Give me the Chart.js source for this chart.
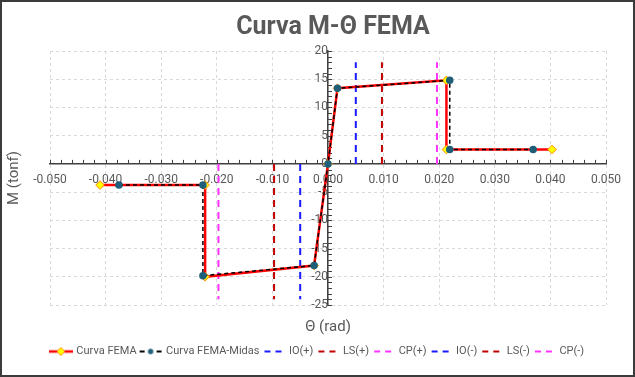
<!DOCTYPE html>
<html>
<head>
<meta charset="utf-8">
<script src="https://cdn.jsdelivr.net/npm/chart.js@4.4.1/dist/chart.umd.min.js"></script>
<style>
  html, body { margin: 0; padding: 0; background: #fff; }
  #wrap { position: relative; width: 635px; height: 377px; }
  #frame { position: absolute; left: 0; top: 0; width: 635px; height: 377px; box-sizing: border-box;
           border: 2px solid #3b3b3b; pointer-events: none; }
</style>
</head>
<body>
<div id="wrap"><canvas id="c" width="635" height="377"></canvas><div id="frame"></div></div>
<script>
// Curva M-Θ FEMA
const femaTheta = [-0.0410, -0.0221, -0.0221, -0.0025, 0.0000, 0.0017, 0.0213, 0.0213, 0.0403];
const femaM     = [-3.75, -3.75, -20.0, -18.0, 0.0, 13.4, 14.8, 2.55, 2.55];

const midasTheta = [-0.0376, -0.0225, -0.0225, -0.0025, 0.0000, 0.0017, 0.0219, 0.0219, 0.0369];
const midasM     = [-3.75, -3.75, -19.8, -18.0, 0.0, 13.4, 14.8, 2.55, 2.55];

// acceptance limits, each drawn as a vertical line from M = 0 to M = limitEnd
const limitNames = ["IO(+)", "LS(+)", "CP(+)", "IO(-)", "LS(-)", "CP(-)"];
const limitTheta = [0.0050, 0.0097, 0.0196, -0.0050, -0.0097, -0.0197];
const limitEnd   = [18, 18, 18, -24, -24, -24];
const limitColors = ["#1a1aff", "#c00000", "#ff33ff", "#1a1aff", "#c00000", "#ff33ff"];

const xMin = -0.05, xMax = 0.05, xStep = 0.01, xMinor = 0.002;
const yMin = -25, yMax = 20, yStep = 5, yMinor = 1;

const GREY = "#595959";
const AXIS = "#404040";
Chart.defaults.font.family = "Roboto, 'Liberation Sans', sans-serif";
Chart.defaults.color = GREY;

const pts = (xs, ys) => xs.map((x, i) => ({ x, y: ys[i] }));

// little legend samples (line + marker)
function sample(kind, color) {
  const c = document.createElement("canvas");
  c.width = 24; c.height = 12;
  const g = c.getContext("2d");
  g.lineCap = "butt";
  if (kind === "fema") {
    g.strokeStyle = "#ff0000"; g.lineWidth = 2.5;
    g.beginPath(); g.moveTo(0, 6); g.lineTo(24, 6); g.stroke();
    g.fillStyle = "#ffff00"; g.strokeStyle = "#ff8c00"; g.lineWidth = 1;
    g.beginPath(); g.moveTo(12, 2); g.lineTo(16, 6); g.lineTo(12, 10); g.lineTo(8, 6); g.closePath();
    g.fill(); g.stroke();
  } else if (kind === "midas") {
    g.strokeStyle = "#000"; g.lineWidth = 2;
    g.beginPath(); g.moveTo(1, 6); g.lineTo(6, 6); g.moveTo(18, 6); g.lineTo(23, 6); g.stroke();
    g.fillStyle = "#1f5f7a";
    g.beginPath(); g.arc(12, 6, 2.7, 0, Math.PI * 2); g.fill();
  } else {
    g.strokeStyle = color; g.lineWidth = 2;
    g.beginPath(); g.moveTo(3, 6); g.lineTo(9, 6); g.moveTo(14, 6); g.lineTo(20, 6); g.stroke();
  }
  return c;
}

const datasets = [
  {
    label: "Curva FEMA", data: pts(femaTheta, femaM), showLine: true,
    borderColor: "#ff0000", borderWidth: 2.5,
    pointStyle: "rectRot", pointRadius: 4.3, pointBackgroundColor: "#ffff00",
    pointBorderColor: "#ff8c00", pointBorderWidth: 1, order: 2, legendImg: sample("fema"),
  },
  {
    label: "Curva FEMA-Midas", data: pts(midasTheta, midasM), showLine: true,
    borderColor: "#000000", borderWidth: 1.5, borderDash: [4, 3],
    pointRadius: 3, pointBackgroundColor: "#1f5f7a", pointBorderColor: "#1f5f7a",
    order: 1, legendImg: sample("midas"),
  },
  ...limitNames.map((name, i) => ({
    label: name, data: [{ x: limitTheta[i], y: 0 }, { x: limitTheta[i], y: limitEnd[i] }],
    showLine: true, borderColor: limitColors[i], borderWidth: 2, borderDash: [7, 5],
    pointRadius: 0, order: 3, legendImg: sample("dash", limitColors[i]),
  })),
];

// minor tick marks + chart title
const decor = {
  id: "decor",
  beforeDatasetsDraw(chart) {
    const { ctx, scales: { x, y } } = chart;
    const x0 = x.getPixelForValue(0), y0 = y.getPixelForValue(0);
    ctx.save();
    ctx.strokeStyle = AXIS; ctx.lineWidth = 1;
    ctx.beginPath();
    for (let i = Math.round(xMin / xMinor); i <= Math.round(xMax / xMinor); i++) {
      const px = Math.round(x.getPixelForValue(i * xMinor)) + 0.5;
      ctx.moveTo(px, y0); ctx.lineTo(px, y0 - 4);
    }
    for (let v = yMin; v <= yMax; v += yMinor) {
      const py = Math.round(y.getPixelForValue(v)) + 0.5;
      ctx.moveTo(x0, py); ctx.lineTo(x0 + 4, py);
    }
    ctx.stroke();
    ctx.restore();
  },
  afterDraw(chart) {
    const { ctx } = chart;
    ctx.save();
    ctx.font = "bold 25px Roboto, 'Liberation Sans', sans-serif";
    ctx.fillStyle = GREY;
    ctx.textAlign = "center";
    ctx.textBaseline = "middle";
    ctx.fillText("Curva M-Θ FEMA", 333, 28);
    ctx.restore();
  },
};

const hidden = { ticks: { display: false }, grid: { display: false, drawTicks: false }, border: { display: false } };

new Chart(document.getElementById("c"), {
  type: "scatter",
  data: { datasets },
  options: {
    responsive: false,
    animation: false,
    devicePixelRatio: 1,
    layout: { padding: { top: 51, right: 0, bottom: 10, left: 0 } },
    plugins: {
      tooltip: { enabled: false },
      legend: {
        position: "bottom",
        labels: {
          usePointStyle: true, pointStyleWidth: 20, boxHeight: 11, padding: 4,
          font: { size: 11 }, color: GREY,
          sort: (a, b) => a.datasetIndex - b.datasetIndex,
          generateLabels: (chart) =>
            Chart.defaults.plugins.legend.labels.generateLabels(chart).map((l) => ({
              ...l, pointStyle: chart.data.datasets[l.datasetIndex].legendImg,
            })),
        },
      },
    },
    scales: {
      x: {
        type: "linear", min: xMin, max: xMax, position: { y: 0 },
        ticks: { stepSize: xStep, callback: (v) => Number(v).toFixed(3), padding: 9,
                 font: { size: 12 }, color: GREY, maxRotation: 0, autoSkip: false },
        grid: { color: "#d9d9d9", lineWidth: 1, drawTicks: false },
        border: { color: AXIS, width: 1.5, dash: [3, 3] },
      },
      y: {
        type: "linear", min: yMin, max: yMax, position: { x: 0 },
        ticks: { stepSize: yStep, padding: 12, font: { size: 12 }, color: GREY },
        grid: { color: "#d9d9d9", lineWidth: 1, drawTicks: false },
        border: { color: AXIS, width: 1.5, dash: [3, 3] },
      },
      xTitle: {
        axis: "x", type: "linear", position: "bottom", min: 0, max: 1, ...hidden,
        title: { display: true, text: "Θ (rad)", font: { size: 15 }, color: GREY, padding: { top: 0, bottom: 6 } },
        afterFit: (s) => { s.height = 37; },
      },
      yTitle: {
        axis: "y", type: "linear", position: "left", min: 0, max: 1, ...hidden,
        title: { display: true, text: "M (tonf)", font: { size: 15 }, color: GREY, padding: { top: 5, bottom: 0 } },
        afterFit: (s) => { s.width = 50; },
      },
      yRight: {
        axis: "y", type: "linear", position: "right", min: 0, max: 1, ...hidden,
        afterFit: (s) => { s.width = 29; },
      },
    },
  },
  plugins: [decor],
});
</script>
</body>
</html>
